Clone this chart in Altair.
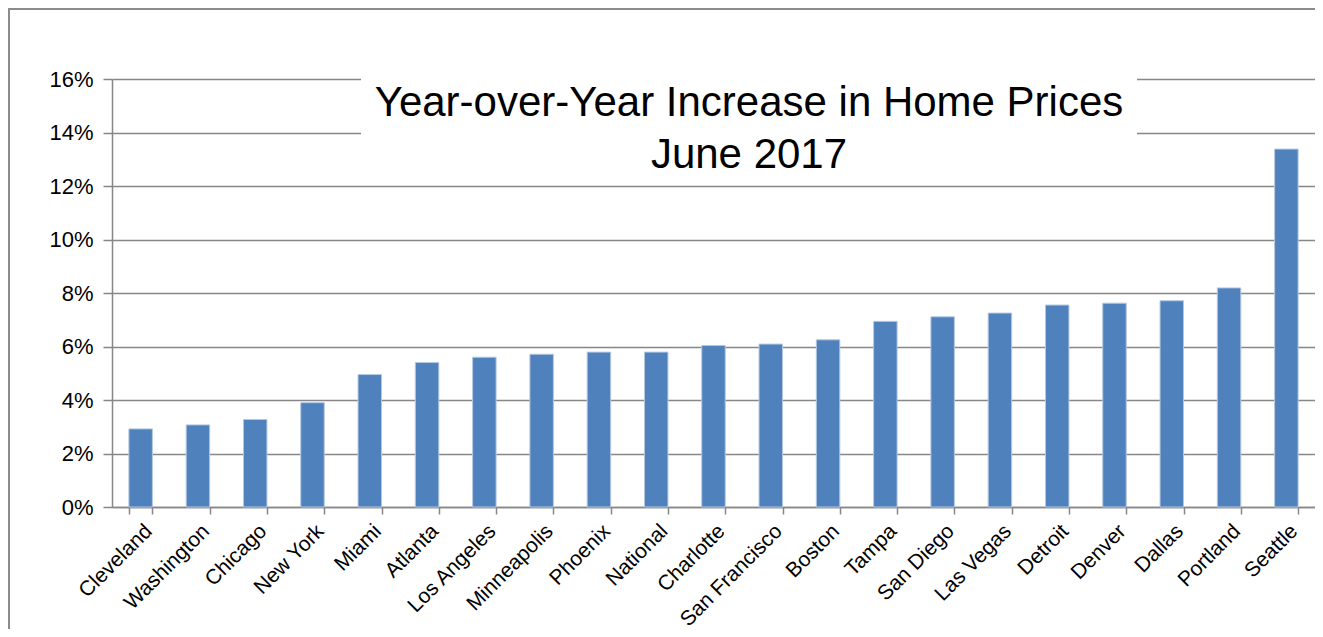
import altair as alt
import pandas as pd

cities = ["Cleveland", "Washington", "Chicago", "New York", "Miami", "Atlanta",
          "Los Angeles", "Minneapolis", "Phoenix", "National", "Charlotte",
          "San Francisco", "Boston", "Tampa", "San Diego", "Las Vegas", "Detroit",
          "Denver", "Dallas", "Portland", "Seattle"]
increase_pct = [2.92, 3.07, 3.27, 3.90, 4.95, 5.40, 5.60, 5.71, 5.79, 5.79, 6.04,
                6.09, 6.25, 6.94, 7.11, 7.25, 7.55, 7.62, 7.71, 8.19, 13.38]
y_ticks = [0, 2, 4, 6, 8, 10, 12, 14, 16]
title_lines = ["Year-over-Year Increase in Home Prices", "June 2017"]

df = pd.DataFrame({"city": cities, "pct": increase_pct})

W, H = 1203, 428
FONT = "Liberation Sans"
GRID = "#878787"
FRAME = "#8C8C8C"

x_enc = alt.X("city:N", sort=cities,
              scale=alt.Scale(paddingInner=0.59, paddingOuter=0.295),
              axis=alt.Axis(title=None, labelAngle=-45, labelFontSize=21,
                            labelFont=FONT, labelColor="black",
                            tickBand="extent", tickSize=7, tickColor=GRID,
                            tickWidth=1.5, domainColor=GRID, domainWidth=1.5,
                            labelPadding=6, grid=False))
y_enc = alt.Y("pct:Q", scale=alt.Scale(domain=[0, 16], nice=False),
              axis=alt.Axis(title=None, values=y_ticks,
                            labelExpr="datum.value + '%'", labelFontSize=22,
                            labelFont=FONT, labelColor="black", labelPadding=10,
                            tickSize=9, tickColor=GRID, tickWidth=1.5,
                            domainColor=GRID, domainWidth=1.5,
                            grid=True, gridColor=GRID, gridWidth=1.5))

bars = alt.Chart(df).mark_bar(color="#4F81BD", stroke="#B4C8E2",
                              strokeWidth=1).encode(x=x_enc, y=y_enc)

one = pd.DataFrame({"k": [0]})
# white box behind the title, hiding the gridlines there
title_box = alt.Chart(one).mark_rect(fill="white").encode(
    x=alt.value(249), x2=alt.value(1025), y=alt.value(-15), y2=alt.value(100))
# chart title, drawn inside the plot like the original
title_text = alt.Chart(one).mark_text(
    text=title_lines, font=FONT, fontSize=42, color="black", align="center",
    baseline="top", lineHeight=52).encode(x=alt.value(637), y=alt.value(3.5))
# outer frame of the figure: only its left and top edges fall inside the picture
frame_left = alt.Chart(one).mark_rule(color=FRAME, strokeWidth=2).encode(
    x=alt.value(-103), y=alt.value(-71), y2=alt.value(900))
frame_top = alt.Chart(one).mark_rule(color=FRAME, strokeWidth=2).encode(
    x=alt.value(-104), x2=alt.value(1400), y=alt.value(-70))

chart = alt.layer(bars, title_box, title_text, frame_left, frame_top).properties(
    width=W, height=H,
    autosize=alt.AutoSizeParams(type="none"),
    padding={"left": 104, "top": 71, "right": 0, "bottom": 122},
).configure_view(stroke=None)

chart.save("out.html", embed_options={"renderer": "svg", "actions": False})
